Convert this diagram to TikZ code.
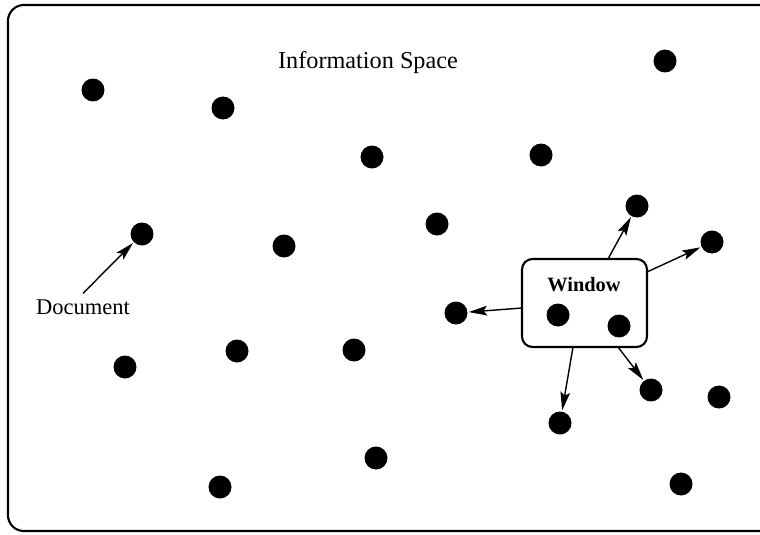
\documentclass[tikz,border=0pt]{standalone}
\usepackage{fontspec}
\setmainfont{Liberation Serif}
\usetikzlibrary{arrows.meta}

\begin{document}
\begin{tikzpicture}[
      x=0.02cm,
      y=-0.02cm,
      doc/.style={circle,fill,inner sep=0pt,minimum size=0.46cm},
      link/.style={line width=0.8pt,-{Stealth[length=10.5pt,width=5.5pt,inset=2pt]},shorten >=0.5pt}
    ]
    \useasboundingbox (0,0) rectangle (760,534);
    \clip (0,0) rectangle (760,534);
    \draw[line width=1.2pt,rounded corners=9pt] (8,5) rectangle (790,531);
    \node (title) at (368,63) {\fontsize{13.8}{16}\selectfont Information Space};
    % documents
    \node (d1) [doc] at (93,90) {};
    \node (d2) [doc] at (223,108) {};
    \node (d3) [doc] at (665,61) {};
    \node (d4) [doc] at (372,157) {};
    \node (d5) [doc] at (541,155) {};
    \node (d6) [doc] at (142,234) {};
    \node (d7) [doc] at (284,246) {};
    \node (d8) [doc] at (437,224) {};
    \node (d9) [doc] at (637,206) {};
    \node (d10) [doc] at (712,242) {};
    \node (d11) [doc] at (456,313) {};
    \node (d14) [doc] at (125,367) {};
    \node (d15) [doc] at (237,351) {};
    \node (d16) [doc] at (354,350) {};
    \node (d17) [doc] at (651,390) {};
    \node (d18) [doc] at (719,397) {};
    \node (d19) [doc] at (560,423) {};
    \node (d20) [doc] at (376,458) {};
    \node (d21) [doc] at (220,487) {};
    \node (d22) [doc] at (681,484) {};
    % window
    \node (win) [draw,line width=1.2pt,rounded corners=6pt,minimum width=125*0.02cm,minimum height=88*0.02cm] at (584.5,303) {};
    \node (wlabel) at (584,285) {\fontsize{11.6}{14}\selectfont\bfseries Window};
    \node (d12) [doc] at (558,315) {};
    \node (d13) [doc] at (619,326) {};
    \coordinate (wt) at (608,259);
    \coordinate (wr) at (647,272);
    \coordinate (wl) at (522,308);
    \coordinate (wb) at (573,347);
    \coordinate (wbr) at (618,347);
    \draw[link] (wt) -- (d9);
    \draw[link] (wr) -- (d10);
    \draw[link] (wl) -- (d11);
    \draw[link] (wb) -- (d19);
    \draw[link] (wbr) -- (d17);
    % label
    \node (doclabel) at (83,307) {\fontsize{12.8}{15}\selectfont Document};
    \draw[link] (doclabel.north) -- (d6);
  \end{tikzpicture}
\end{document}
